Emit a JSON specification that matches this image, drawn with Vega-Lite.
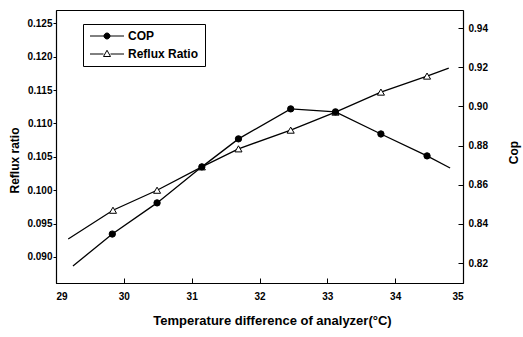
{
  "$schema": "https://vega.github.io/schema/vega-lite/v6.json",
  "autosize": {"type": "none"},
  "padding": {"left": 56, "top": 10, "right": 60, "bottom": 54},
  "width": 407,
  "height": 273,
  "background": "white",
  "data": {"values": [
    {"series": "Reflux Ratio", "t": 29.18, "value": 0.0927, "measured": false},
    {"series": "Reflux Ratio", "t": 29.84, "value": 0.0970, "measured": true},
    {"series": "Reflux Ratio", "t": 30.49, "value": 0.1000, "measured": true},
    {"series": "Reflux Ratio", "t": 31.15, "value": 0.1035, "measured": true},
    {"series": "Reflux Ratio", "t": 31.69, "value": 0.1062, "measured": true},
    {"series": "Reflux Ratio", "t": 32.46, "value": 0.1090, "measured": true},
    {"series": "Reflux Ratio", "t": 33.12, "value": 0.1117, "measured": true},
    {"series": "Reflux Ratio", "t": 33.79, "value": 0.1147, "measured": true},
    {"series": "Reflux Ratio", "t": 34.47, "value": 0.1171, "measured": true},
    {"series": "Reflux Ratio", "t": 34.79, "value": 0.1183, "measured": false},
    {"series": "COP", "t": 29.25, "value": 0.8185, "measured": false},
    {"series": "COP", "t": 29.83, "value": 0.8348, "measured": true},
    {"series": "COP", "t": 30.49, "value": 0.8507, "measured": true},
    {"series": "COP", "t": 31.15, "value": 0.8691, "measured": true},
    {"series": "COP", "t": 31.69, "value": 0.8834, "measured": true},
    {"series": "COP", "t": 32.46, "value": 0.8987, "measured": true},
    {"series": "COP", "t": 33.12, "value": 0.8972, "measured": true},
    {"series": "COP", "t": 33.79, "value": 0.8859, "measured": true},
    {"series": "COP", "t": 34.47, "value": 0.8747, "measured": true},
    {"series": "COP", "t": 34.81, "value": 0.8685, "measured": false}
  ]},
  "config": {
    "view": {"stroke": "black", "strokeWidth": 1},
    "font": "Liberation Sans",
    "axis": {
      "grid": false,
      "domainColor": "black",
      "domainWidth": 1.2,
      "tickColor": "black",
      "tickWidth": 1,
      "labelColor": "black",
      "titleColor": "black",
      "labelFont": "Liberation Sans",
      "labelFontWeight": "bold",
      "labelFontSize": 10,
      "titleFont": "Liberation Sans",
      "titleFontWeight": "bold",
      "titleFontSize": 12
    },
    "legend": {
      "orient": "none",
      "legendX": 27,
      "legendY": 14,
      "direction": "vertical",
      "padding": 6,
      "strokeColor": "black",
      "fillColor": "white",
      "labelFont": "Liberation Sans",
      "labelFontWeight": "bold",
      "labelFontSize": 12,
      "labelColor": "black",
      "symbolSize": 100,
      "labelOffset": 27,
      "rowPadding": 6
    }
  },
  "encoding": {
    "x": {
      "field": "t",
      "type": "quantitative",
      "scale": {"domain": [29, 35], "nice": false, "zero": false},
      "axis": {
        "values": [29, 30, 31, 32, 33, 34, 35],
        "format": "d",
        "title": "Temperature difference of analyzer(°C)",
        "titleFontSize": 13,
        "tickSize": -5,
        "labelPadding": 13,
        "titleX": 216,
        "titleY": 37,
        "titleBaseline": "middle",
        "titleAlign": "center"
      }
    },
    "stroke": {
      "field": "series",
      "type": "nominal",
      "scale": {"domain": ["COP", "Reflux Ratio"], "range": ["black", "black"]},
      "legend": {
        "title": null,
        "encode": {
          "symbols": {
            "update": {
              "shape": {"signal": "datum.value === 'COP' ? 'M-1,0H5.8M1.8,0A0.6,0.6 0 1,1 3,0A0.6,0.6 0 1,1 1.8,0Z' : 'M-1,0H1.7M3.1,0H5.8M2.4,-0.75L3.1,0.5L1.7,0.5Z'"},
              "fill": {"signal": "datum.value === 'COP' ? 'black' : 'white'"},
              "fillOpacity": {"value": 1},
              "strokeWidth": {"value": 1},
              "strokeDash": {"value": []},
              "opacity": {"value": 1}
            }
          }
        }
      }
    }
  },
  "layer": [
    {
      "transform": [{"filter": "datum.series === 'Reflux Ratio'"}],
      "encoding": {
        "y": {
          "field": "value",
          "type": "quantitative",
          "scale": {"domain": [0.0861, 0.127], "nice": false, "zero": false},
          "axis": {
            "orient": "left",
            "values": [0.09, 0.095, 0.1, 0.105, 0.11, 0.115, 0.12, 0.125],
            "format": ".3f",
            "title": "Reflux ratio",
            "tickSize": 3,
            "labelPadding": 1,
            "titleAngle": 270,
            "titleX": -42,
            "titleY": 150,
            "titleAlign": "center",
            "titleBaseline": "middle"
          }
        }
      },
      "layer": [
        {"mark": {"type": "line", "strokeWidth": 1.3}},
        {
          "transform": [{"filter": "datum.measured"}],
          "mark": {"type": "point", "shape": "triangle-up", "filled": false, "fill": "white", "fillOpacity": 1, "strokeWidth": 1, "opacity": 1, "size": 50}
        }
      ]
    },
    {
      "transform": [{"filter": "datum.series === 'COP'"}],
      "encoding": {
        "y": {
          "field": "value",
          "type": "quantitative",
          "scale": {"domain": [0.8098, 0.9492], "nice": false, "zero": false},
          "axis": {
            "orient": "right",
            "values": [0.82, 0.84, 0.86, 0.88, 0.9, 0.92, 0.94],
            "format": ".2f",
            "title": "Cop",
            "tickSize": -5,
            "labelPadding": 10,
            "titleAngle": 270,
            "titleX": 50,
            "titleY": 142,
            "titleAlign": "center",
            "titleBaseline": "middle"
          }
        }
      },
      "layer": [
        {"mark": {"type": "line", "strokeWidth": 1.3}},
        {
          "transform": [{"filter": "datum.measured"}],
          "mark": {"type": "point", "shape": "circle", "filled": false, "fill": "black", "fillOpacity": 1, "strokeWidth": 1, "opacity": 1, "size": 40}
        }
      ]
    }
  ],
  "resolve": {"scale": {"y": "independent"}}
}
